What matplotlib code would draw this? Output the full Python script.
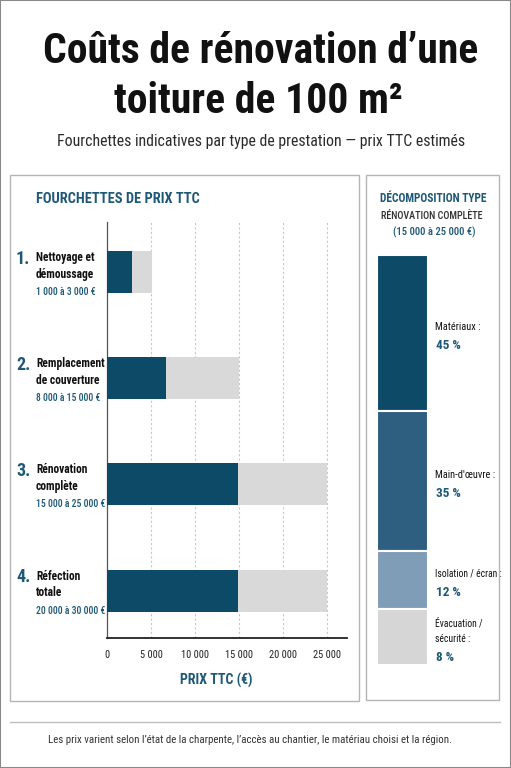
import matplotlib
matplotlib.use("Agg")
import matplotlib.pyplot as plt
from matplotlib import font_manager, transforms
from matplotlib.patches import Rectangle
from matplotlib.lines import Line2D

# ---------------- data ----------------
services = ["Nettoyage et\ndémoussage", "Remplacement\nde couverture",
            "Rénovation\ncomplète", "Réfection\ntotale"]
ranges_text = ["1 000 à 3 000 €", "8 000 à 15 000 €", "15 000 à 25 000 €", "20 000 à 30 000 €"]
bar_low = [2900, 6700, 14900, 14900]      # dark part end
bar_high = [5100, 15000, 25000, 25000]    # light part end
xticks = [0, 5000, 10000, 15000, 20000, 25000]
xtick_labels = ["0", "5 000", "10 000", "15 000", "20 000", "25 000"]

parts = ["Matériaux :", "Main-d'œuvre :", "Isolation / écran :", "Évacuation /\nsécurité :"]
parts_pct_text = ["45 %", "35 %", "12 %", "8 %"]
parts_drawn = [38.0, 34.1, 14.3, 13.6]    # segment sizes as drawn in the picture

# ---------------- fonts ----------------
def font(name):
    for f in font_manager.fontManager.ttflist:
        if f.fname.endswith(name):
            return font_manager.FontProperties(fname=f.fname)
    return font_manager.FontProperties(family="DejaVu Sans")

F_BOLD = "RobotoCondensed-Bold.ttf"
F_MED = "RobotoCondensed-Medium.ttf"
F_REG = "RobotoCondensed-Regular.ttf"

def fp(name, size):
    p = font(name).copy()
    p.set_size(size)
    return p

DARK = "#0d4a68"
TEAL = "#1d5876"
LIGHT = "#d9d9d9"
SEG_COLORS = ["#0d4a68", "#2e5f80", "#7f9db6", "#d6d6d6"]

W, H = 511, 768
fig = plt.figure(figsize=(W / 100, H / 100), dpi=100)
fig.patch.set_facecolor("white")

def fx(x):
    return x / W

def fy(y):
    return 1 - y / H

# outer border
fig.add_artist(Rectangle((0, 0), 1, 1, transform=fig.transFigure, fill=False,
                         edgecolor="#8a8a8a", lw=1.5))

# title
fig.text(fx(261), fy(63), "Coûts de rénovation d’une", ha="center", va="baseline",
         fontproperties=fp(F_BOLD, 30), color="#111111")
fig.text(fx(258), fy(113), "toiture de 100 m²", ha="center", va="baseline",
         fontproperties=fp(F_BOLD, 30), color="#111111")
fig.text(fx(261.5), fy(146), "Fourchettes indicatives par type de prestation — prix TTC estimés",
         ha="center", va="baseline", fontproperties=fp(F_REG, 11.4), color="#2a2a2a")

# panels
fig.add_artist(Rectangle((fx(10), fy(701)), fx(359 - 10), (701 - 175) / H,
                         transform=fig.transFigure, fill=False, edgecolor="#b5b5b5", lw=1))
fig.add_artist(Rectangle((fx(366), fy(700)), fx(499 - 366), (700 - 175) / H,
                         transform=fig.transFigure, fill=False, edgecolor="#b5b5b5", lw=1))

fig.text(fx(36), fy(203), "FOURCHETTES DE PRIX TTC", ha="left", va="baseline",
         fontproperties=fp(F_BOLD, 10.4), color=TEAL)

# ---------------- left chart ----------------
ax = fig.add_axes([fx(107), fy(638), fx(346.7 - 107), (638 - 222) / H])
ypos = list(range(len(services)))
ax.barh(ypos, bar_low, height=0.395, color=DARK, zorder=3)
ax.barh(ypos, [h - l for h, l in zip(bar_high, bar_low)], left=bar_low,
        height=0.395, color=LIGHT, zorder=3)
ax.set_xlim(0, 27270)
ax.set_ylim(3.446, -0.471)
ax.set_xticks(xticks)
ax.set_xticklabels(xtick_labels)
for lab in ax.get_xticklabels():
    lab.set_fontproperties(fp(F_REG, 7.5))
    lab.set_color("#222222")
ax.tick_params(axis="x", length=0, pad=9)
ax.set_yticks([])
ax.grid(axis="x", color="#c8c8c8", lw=0.8, linestyle=(0, (2, 2)), zorder=0)
for s in ["top", "right"]:
    ax.spines[s].set_visible(False)
ax.spines["left"].set_color("#555555")
ax.spines["left"].set_linewidth(0.9)
ax.spines["bottom"].set_color("#222222")
ax.spines["bottom"].set_linewidth(1.3)
ax.set_facecolor("none")
ax.set_xlabel("PRIX TTC (€)", fontproperties=fp(F_BOLD, 10), color=TEAL)
ax.xaxis.set_label_coords((216 - 107) / (346.7 - 107), -(685 - 638) / (638 - 222))
ax.xaxis.label.set_va("baseline")

blend = transforms.blended_transform_factory(fig.transFigure, ax.transData)

def off(dy_px):
    return transforms.offset_copy(blend, fig=fig, x=0, y=-dy_px, units="dots")

for i, (name, rng) in enumerate(zip(services, ranges_text)):
    l1, l2 = name.split("\n")
    fig.text(fx(16), i, f"{i + 1}.", transform=off(-8.5), ha="left", va="baseline",
             fontproperties=fp(F_BOLD, 13), color=TEAL)
    fig.text(fx(36), i, l1, transform=off(-11), ha="left", va="baseline",
             fontproperties=fp(F_BOLD, 8.3), color="#111111")
    fig.text(fx(36), i, l2, transform=off(5.5), ha="left", va="baseline",
             fontproperties=fp(F_BOLD, 8.3), color="#111111")
    fig.text(fx(36), i, rng, transform=off(23), ha="left", va="baseline",
             fontproperties=fp(F_MED, 6.9), color=TEAL)

# ---------------- right panel ----------------
fig.text(fx(433), fy(202), "DÉCOMPOSITION TYPE", ha="center", va="baseline",
         fontproperties=fp(F_BOLD, 8.3), color=TEAL)
fig.text(fx(432), fy(219), "RÉNOVATION COMPLÈTE", ha="center", va="baseline",
         fontproperties=fp(F_MED, 7.3), color="#333333")
fig.text(fx(434), fy(235), "(15 000 à 25 000 €)", ha="center", va="baseline",
         fontproperties=fp(F_MED, 7.7), color=TEAL)

ax2 = fig.add_axes([fx(377), fy(665), fx(428 - 377), (665 - 255) / H])
bottom = 0
centers = []
for size, col in zip(parts_drawn, SEG_COLORS):
    ax2.bar(0, size, bottom=bottom, width=1, color=col, edgecolor="white", lw=1.5)
    centers.append(bottom + size / 2)
    bottom += size
ax2.set_xlim(-0.5, 0.5)
ax2.set_ylim(bottom, 0)
ax2.axis("off")

blend2 = transforms.blended_transform_factory(fig.transFigure, ax2.transData)

def off2(dy_px):
    return transforms.offset_copy(blend2, fig=fig, x=0, y=-dy_px, units="dots")

for name, pct, c in zip(parts, parts_pct_text, centers):
    lines = name.split("\n")
    n = len(lines)
    total = 15.5 * (n - 1) + 19
    start = 2 - total / 2 + 4.5
    size = 7.5 if len(name) < 16 else 6.9
    for k, ln in enumerate(lines):
        fig.text(fx(435), c, ln, transform=off2(start + 15.5 * k), ha="left", va="baseline",
                 fontproperties=fp(F_REG, size), color="#111111")
    fig.text(fx(436), c, pct, transform=off2(start + 15.5 * (n - 1) + 19), ha="left",
             va="baseline", fontproperties=fp(F_BOLD, 9.5), color=TEAL)

# ---------------- footer ----------------
fig.add_artist(Line2D([fx(10), fx(500)], [fy(722), fy(722)], transform=fig.transFigure,
                      color="#bdbdbd", lw=1))
fig.text(fx(249.5), fy(743), "Les prix varient selon l’état de la charpente, l’accès au chantier, "
         "le matériau choisi et la région.", ha="center", va="baseline",
         fontproperties=fp(F_REG, 7.85), color="#333333")

fig.savefig("out.png", dpi=100, facecolor="white")
